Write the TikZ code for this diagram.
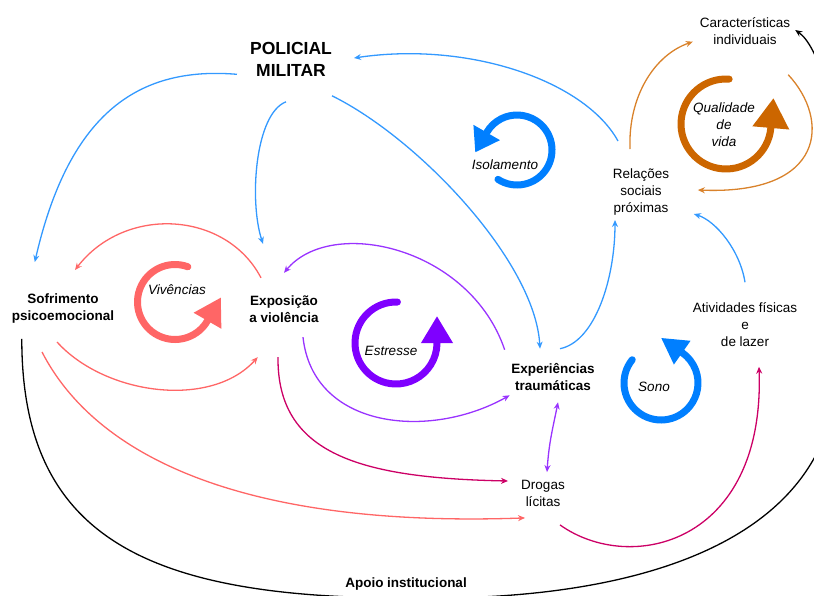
\documentclass[tikz,border=0pt]{standalone}
\usepackage{fontspec}
\setmainfont{Liberation Sans}
\usetikzlibrary{arrows.meta}

\definecolor{r51g153b255}{rgb}{0.200000,0.600000,1.000000}
\definecolor{r0g127b255}{rgb}{0.000000,0.498000,1.000000}
\definecolor{r255g102b102}{rgb}{1.000000,0.400000,0.400000}
\definecolor{r153g51b255}{rgb}{0.600000,0.200000,1.000000}
\definecolor{r127g0b255}{rgb}{0.498000,0.000000,1.000000}
\definecolor{r204g0b102}{rgb}{0.800000,0.000000,0.400000}
\definecolor{r217g130b43}{rgb}{0.851000,0.510000,0.169000}
\definecolor{r204g102b0}{rgb}{0.800000,0.400000,0.000000}

\begin{document}
\begin{tikzpicture}[x=1pt,y=-1pt,
  txt/.style={align=center,inner sep=0pt,font=\fontsize{13.5}{17}\selectfont},
  boldtxt/.style={align=center,inner sep=0pt,font=\fontsize{13.5}{17}\selectfont\bfseries},
  loopname/.style={align=center,inner sep=0pt,font=\fontsize{13.5}{17}\selectfont\itshape},
  conn/.style={line width=1.3pt,-{Stealth[length=7pt,width=6pt]}},
  dconn/.style={line width=1.3pt,{Stealth[length=7pt,width=6pt]}-{Stealth[length=7pt,width=6pt]}},
  loopline/.style={line width=7pt,line cap=round,-{Triangle[length=27pt,width=30pt]}}]
\useasboundingbox (0,0) rectangle (814,596);

% Marking node POLICIAL MILITAR
\node[boldtxt,font=\fontsize{17.5}{22}\selectfont\bfseries] (pm) at (291,59) {POLICIAL\\MILITAR};%

% Marking nodes of the loop
\node[txt] (car) at (745,31) {Características\\individuais};%
\node[txt] (rel) at (641,192) {Relações\\sociais\\próximas};%
\node[boldtxt] (sof) at (63,309) {Sofrimento\\psicoemocional};%
\node[boldtxt] (exp) at (284,309) {Exposição\\a violência};%
\node[boldtxt] (exper) at (553,377) {Experiências\\traumáticas};%
\node[txt] (ativ) at (745,325) {Atividades físicas\\e\\de lazer};%
\node[txt] (drog) at (543,493) {Drogas\\lícitas};%
\node[boldtxt] (apoio) at (406,584) {Apoio institucional};%

% Marking loop names
\node[loopname] (viv) at (177,290) {Vivências};%
\node[loopname] (str) at (391,351) {Estresse};%
\node[loopname] (iso) at (505,165) {Isolamento};%
\node[loopname] (sono) at (654,387) {Sono};%
\node[loopname] (qual) at (724,125) {Qualidade\\de\\vida};%

% Drawing loops
\draw[loopline,r255g102b102] (175,302) ++(70:37.5pt) arc[start angle=70,end angle=330,radius=37.5pt] -- ++(60:27pt);%
\draw[loopline,r127g0b255] (396,343) ++(88:41pt) arc[start angle=88,end angle=360,radius=41pt] -- ++(90:27pt);%
\draw[loopline,r0g127b255,-{Triangle[length=23pt,width=29pt]}] (517,150) ++(-123:35pt) arc[start angle=-123,end angle=150,radius=35pt] -- ++(240:23pt);%
\draw[loopline,r0g127b255,-{Triangle[length=26pt,width=27pt]}] (661,383) ++(141:37pt) arc[start angle=141,end angle=415,radius=37pt] -- ++(145:26pt);%
\draw[loopline,r204g102b0,-{Triangle[length=30pt,width=35pt]}] (726,124) ++(86:45pt) arc[start angle=86,end angle=355,radius=45pt] -- ++(85:30pt);%

% Drawing blue arrows
\draw[conn,r51g153b255] ([shift={(-23,-27.5)}]rel.north) .. controls +(-33,-60) and +(115,-17) .. ([shift={(22,-1)}]pm.east);%
\draw[conn,r51g153b255] ([shift={(-13,-2)}]pm.south west) .. controls +(-96,-8) and +(35,-152) .. ([shift={(23,-32)}]sof.north west);%
\draw[conn,r51g153b255] ([shift={(-5,25.5)}]pm.south) .. controls +(-31,12) and +(-14,-43) .. ([shift={(-21,-51.5)}]exp.north);%
\draw[conn,r51g153b255] ([shift={(0,19.5)}]pm.south east) .. controls +(87,43) and +(-5,-87) .. ([shift={(-13,-14.5)}]exper.north);%
\draw[conn,r51g153b255] ([shift={(7,-14.5)}]exper.north) .. controls +(35,-7) and +(0,59) .. ([shift={(-26,4.5)}]rel.south);%
\draw[conn,r51g153b255] ([shift={(0,-20.5)}]ativ.north) .. controls +(-5,-32) and +(22,7) .. ([shift={(24.5,-1.5)}]rel.south east);%

% Drawing orange arrows
\draw[conn,r217g130b43] ([shift={(-11,-19.5)}]rel.north) .. controls +(-2,-53) and +(-38,13) .. ([shift={(-7,-3)}]car.south west);%
\draw[conn,r217g130b43] ([shift={(-2,30)}]car.south east) .. controls +(42,45) and +(128,5) .. ([shift={(28.5,-2)}]rel.east);%

% Drawing black arrow through Apoio institucional
\draw[conn,black] ([shift={(10,15)}]sof.south west) .. controls +(0,201) and +(-270,2) .. ([shift={(14,7.5)}]apoio.south) .. controls +(180,2) and +(-40,140) .. ++(410,-178) .. controls +(40,-140) and +(43,30) .. ([shift={(5,-1)}]car.east);%

% Drawing red arrows
\draw[conn,r255g102b102] ([shift={(-23,-17.5)}]exp.north) .. controls +(-35,-67) and +(50,-65) .. ([shift={(12,-24)}]sof.north);%
\draw[conn,r255g102b102] ([shift={(-6,18)}]sof.south) .. controls +(48,53) and +(-47,52) .. ([shift={(8.5,34.5)}]exp.south west);%
\draw[conn,r255g102b102] ([shift={(-21,28)}]sof.south) .. controls +(53,103) and +(-285,10) .. ([shift={(4,11.5)}]drog.south west);%

% Drawing purple arrows
\draw[conn,r153g51b255] ([shift={(-6.5,-13.5)}]exper.north west) .. controls +(-35,-103) and +(47,-57) .. ([shift={(0,-22.5)}]exp.north);%
\draw[conn,r153g51b255] ([shift={(19,14.5)}]exp.south) .. controls +(10,92) and +(-80,45) .. ([shift={(-1.5,4.5)}]exper.south west);%
\draw[dconn,r153g51b255] ([shift={(5,11.5)}]exper.south) .. controls +(-5,25) and +(2,-30) .. ([shift={(4,-7.5)}]drog.north);%

% Drawing magenta arrows
\draw[conn,r204g0b102] ([shift={(-6,34.5)}]exp.south) .. controls +(-1,97) and +(-148,-3) .. ([shift={(-13,-12)}]drog.west);%
\draw[conn,r204g0b102] ([shift={(17,18.5)}]drog.south) .. controls +(70,50) and +(6,178) .. ([shift={(14,19.5)}]ativ.south);%
\end{tikzpicture}
\end{document}
